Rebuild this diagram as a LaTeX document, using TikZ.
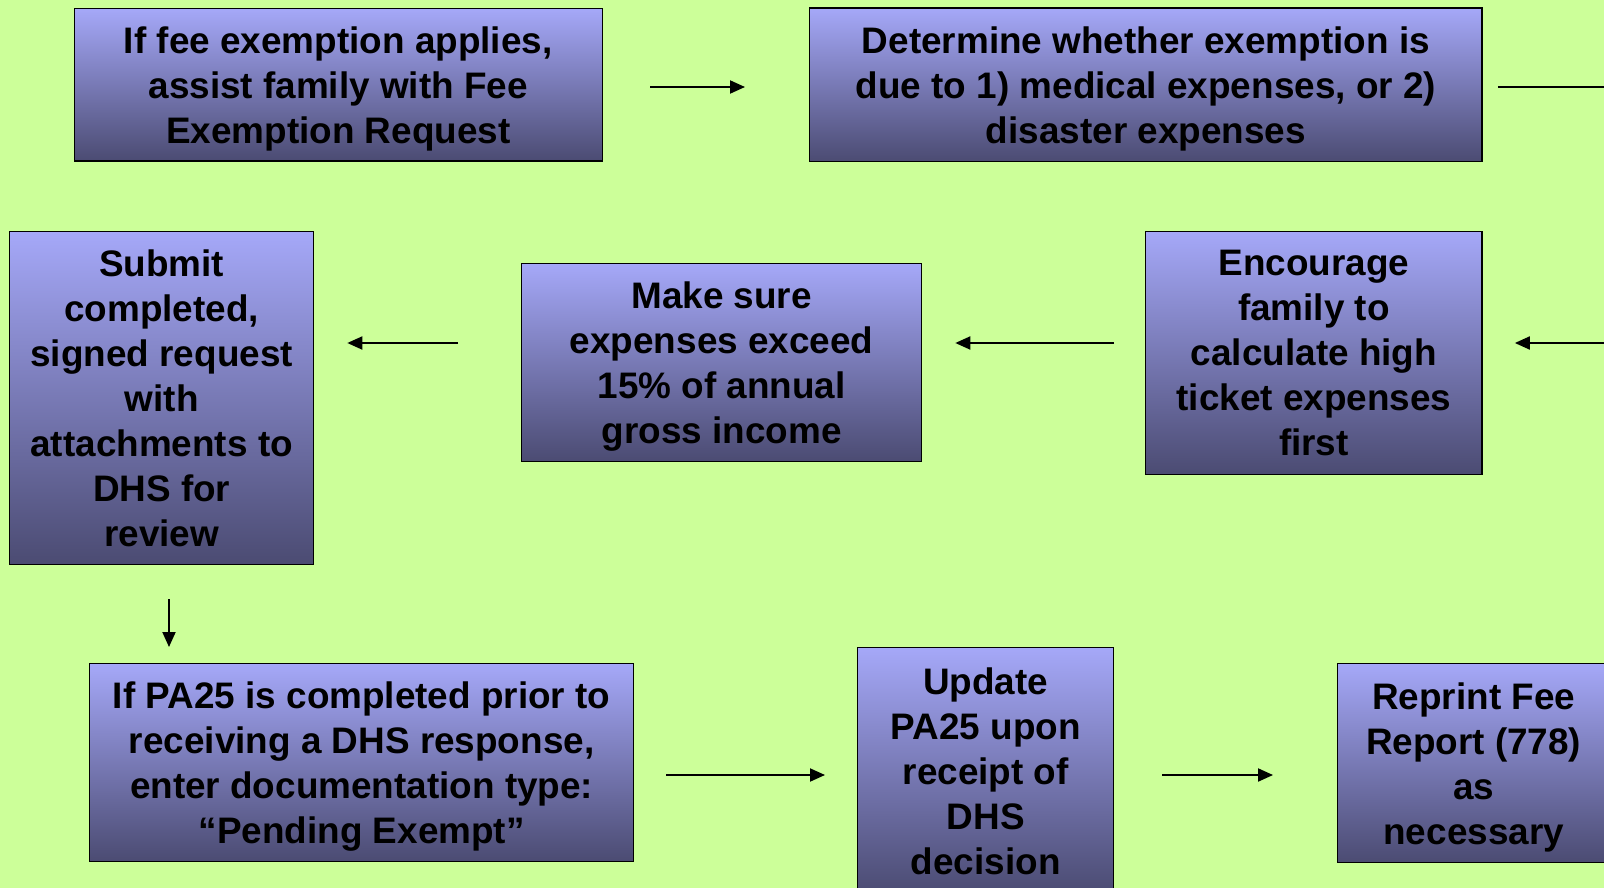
\documentclass[tikz,border=0pt]{standalone}
\usepackage{fontspec}
\setmainfont{Liberation Sans}
\usepackage{tikz}
\usetikzlibrary{arrows.meta}

\definecolor{pagebg}{HTML}{CCFF99}
\definecolor{boxtop}{HTML}{A5A8F8}
\definecolor{boxbot}{HTML}{4B4B72}

\begin{document}
\begin{tikzpicture}[
    x=0.02cm, y=-0.02cm,
    stepbox/.style={rectangle, draw=black, line width=0.8pt, top color=boxtop, bottom color=boxbot, align=center, anchor=north west, inner sep=0pt, text depth=-1.6pt, font=\fontsize{21pt}{25.6pt}\selectfont\bfseries},
    arrow/.style={-{Triangle[length=0.3cm, width=0.26cm]}, line width=1.1pt}
]

\useasboundingbox (0,0) rectangle (1604,888);
\clip (0,0) rectangle (1604,888);
\fill[pagebg] (0,0) rectangle (1604,888);

% Top row
\node[stepbox, minimum width=10.56cm, minimum height=3.05cm] (fee) at (73.6,8) {If fee exemption applies,\\assist family with Fee\\Exemption Request};
\node[stepbox, minimum width=13.45cm, minimum height=3.07cm] (determine) at (809,7.5) {Determine whether exemption is\\due to 1) medical expenses, or 2)\\disaster expenses};

% Middle row
\node[stepbox, minimum width=6.73cm, minimum height=4.86cm] (encourage) at (1145,231) {Encourage\\family to\\calculate high\\ticket expenses\\first};
\node[stepbox, minimum width=8cm, minimum height=3.96cm] (makesure) at (521,263) {Make sure\\expenses exceed\\15\% of annual\\gross income};
\node[stepbox, minimum width=6.08cm, minimum height=6.66cm] (submit) at (9,231) {Submit\\completed,\\signed request\\with\\attachments to\\DHS for\\review};

% Bottom row
\node[stepbox, minimum width=10.88cm, minimum height=3.96cm] (pending) at (89,663) {If PA25 is completed prior to\\receiving a DHS response,\\enter documentation type:\\“Pending Exempt”};
\node[stepbox, minimum width=5.12cm, minimum height=4.92cm] (update) at (857,647) {Update\\PA25 upon\\receipt of\\DHS\\decision};
\node[stepbox, minimum width=5.44cm, minimum height=3.98cm] (reprint) at (1337,663) {Reprint Fee\\Report (778)\\as\\necessary};

% Arrow levels
\coordinate (rowA) at (0,87);
\coordinate (rowB) at (0,343);
\coordinate (rowC) at (0,775);
\coordinate (colA) at (169,0);
\coordinate (offA) at (1650,87);
\coordinate (offB) at (1650,343);

% Arrows
\draw[arrow, shorten <=0.95cm, shorten >=1.28cm] (fee.east |- rowA) -- (determine.west |- rowA);
\draw[arrow, shorten <=0.3cm] (determine.east |- rowA) -- (offA);
\draw[arrow, shorten >=0.64cm] (offB) -- (encourage.east |- rowB);
\draw[arrow, shorten <=0.62cm, shorten >=0.66cm] (encourage.west |- rowB) -- (makesure.east |- rowB);
\draw[arrow, shorten <=1.26cm, shorten >=0.66cm] (makesure.west |- rowB) -- (submit.east |- rowB);
\draw[arrow, shorten <=0.68cm, shorten >=0.32cm] (submit.south -| colA) -- (pending.north -| colA);
\draw[arrow, shorten <=0.64cm, shorten >=0.64cm] (pending.east |- rowC) -- (update.west |- rowC);
\draw[arrow, shorten <=0.96cm, shorten >=1.28cm] (update.east |- rowC) -- (reprint.west |- rowC);

\end{tikzpicture}
\end{document}
